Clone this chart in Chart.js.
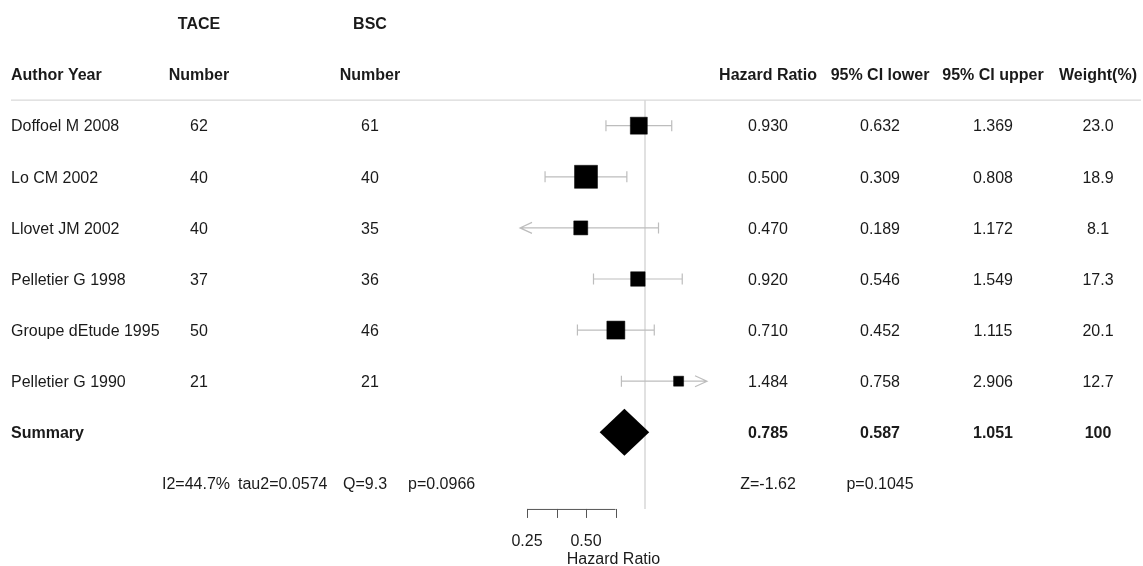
<!DOCTYPE html>
<html>
<head>
<meta charset="utf-8">
<script src="https://cdn.jsdelivr.net/npm/chart.js@4.4.1/dist/chart.umd.min.js"></script>
<style>
  html, body { margin: 0; padding: 0; background: #ffffff; }
  #wrap { position: relative; width: 1143px; height: 566px; }
</style>
</head>
<body>
<div id="wrap"><canvas id="c"></canvas></div>
<script>
// ---------------- DATA ----------------
const studies = ['Doffoel M 2008', 'Lo CM 2002', 'Llovet JM 2002', 'Pelletier G 1998', 'Groupe dEtude 1995', 'Pelletier G 1990'];
const taceN = [62, 40, 40, 37, 50, 21];
const bscN = [61, 40, 35, 36, 46, 21];
const hazardRatio = [0.930, 0.500, 0.470, 0.920, 0.710, 1.484];
const ciLower = [0.632, 0.309, 0.189, 0.546, 0.452, 0.758];
const ciUpper = [1.369, 0.808, 1.172, 1.549, 1.115, 2.906];
const weightPct = [23.0, 18.9, 8.1, 17.3, 20.1, 12.7];
const summaryLabel = 'Summary';
const summaryHR = 0.785;
const summaryLower = 0.587;
const summaryUpper = 1.051;
const summaryWeight = 100;
const groupHeaders = ['TACE', 'BSC'];
const columnHeaders = ['Author Year', 'Number', 'Number', 'Hazard Ratio', '95% CI lower', '95% CI upper', 'Weight(%)'];
const heterogeneityText = ['I2=44.7%', 'tau2=0.0574', 'Q=9.3', 'p=0.0966'];
const overallTestText = ['Z=-1.62', 'p=0.1045'];
const axisTicks = [0.25, 0.3536, 0.5, 0.7071];
const axisTickLabels = ['0.25', '', '0.50', ''];
const axisTitle = 'Hazard Ratio';
const referenceValue = 1;

// ---------------- STYLE / LAYOUT ----------------
const FONT = '"Liberation Sans", Arial, Helvetica, sans-serif';
const TEXT_COLOR = '#1a1a1a';
const boxSidePx = [17, 23, 14, 14.5, 18, 10];
const colX = { name: 11, tace: 199, bsc: 370, hr: 768, lo: 880, hi: 993, w: 1098 };
const heteroX = [162, 238, 343, 408];
const X_MIN = 0.2302, X_MAX = 2.072;

const fmt3 = v => v.toFixed(3);
const fmt1 = v => v.toFixed(1);

const boxPoints = hazardRatio.map((v, i) => ({ x: v, y: i + 2 }));

function drawText(ctx, txt, x, yCenter, align, bold) {
  ctx.font = (bold ? 'bold ' : '') + '16px ' + FONT;
  ctx.textAlign = align;
  ctx.textBaseline = 'alphabetic';
  ctx.fillStyle = TEXT_COLOR;
  ctx.fillText(txt, x, yCenter + 5.7);
}

const forestPlugin = {
  id: 'forest',
  beforeDatasetsDraw(chart) {
    const ctx = chart.ctx;
    const xs = chart.scales.x, ys = chart.scales.y;
    ctx.save();
    // header rule
    const yRule = ys.getPixelForValue(1.5);
    ctx.strokeStyle = '#d9d9d9';
    ctx.lineWidth = 1.2;
    ctx.beginPath();
    ctx.moveTo(11, yRule); ctx.lineTo(1141, yRule);
    ctx.stroke();
    // reference line
    const xRef = xs.getPixelForValue(referenceValue);
    ctx.strokeStyle = '#d4d4d4';
    ctx.lineWidth = 1.4;
    ctx.beginPath();
    ctx.moveTo(xRef, yRule); ctx.lineTo(xRef, ys.getPixelForValue(9.5));
    ctx.stroke();
    // confidence intervals
    ctx.strokeStyle = '#bdbdbd';
    ctx.lineWidth = 1.2;
    for (let i = 0; i < hazardRatio.length; i++) {
      const y = ys.getPixelForValue(i + 2);
      const clipL = ciLower[i] < X_MIN, clipR = ciUpper[i] > X_MAX;
      const xl = xs.getPixelForValue(clipL ? X_MIN : ciLower[i]);
      const xr = xs.getPixelForValue(clipR ? X_MAX : ciUpper[i]);
      ctx.beginPath();
      ctx.moveTo(xl, y); ctx.lineTo(xr, y);
      if (clipL) {
        ctx.moveTo(xl + 12, y - 5.5); ctx.lineTo(xl, y); ctx.lineTo(xl + 12, y + 5.5);
      } else {
        ctx.moveTo(xl, y - 5.5); ctx.lineTo(xl, y + 5.5);
      }
      if (clipR) {
        ctx.moveTo(xr - 12, y - 5.5); ctx.lineTo(xr, y); ctx.lineTo(xr - 12, y + 5.5);
      } else {
        ctx.moveTo(xr, y - 5.5); ctx.lineTo(xr, y + 5.5);
      }
      ctx.stroke();
    }
    ctx.restore();
  },
  afterDatasetsDraw(chart) {
    const ctx = chart.ctx;
    const xs = chart.scales.x, ys = chart.scales.y;
    ctx.save();
    // summary diamond
    const yS = ys.getPixelForValue(8);
    const half = 23.5;
    ctx.fillStyle = '#000000';
    ctx.beginPath();
    ctx.moveTo(xs.getPixelForValue(summaryLower), yS);
    ctx.lineTo(xs.getPixelForValue(summaryHR), yS - half);
    ctx.lineTo(xs.getPixelForValue(summaryUpper), yS);
    ctx.lineTo(xs.getPixelForValue(summaryHR), yS + half);
    ctx.closePath();
    ctx.fill();

    // group headers
    const y0 = ys.getPixelForValue(0);
    drawText(ctx, groupHeaders[0], colX.tace, y0, 'center', true);
    drawText(ctx, groupHeaders[1], colX.bsc, y0, 'center', true);
    // column headers
    const y1 = ys.getPixelForValue(1);
    drawText(ctx, columnHeaders[0], colX.name, y1, 'left', true);
    drawText(ctx, columnHeaders[1], colX.tace, y1, 'center', true);
    drawText(ctx, columnHeaders[2], colX.bsc, y1, 'center', true);
    drawText(ctx, columnHeaders[3], colX.hr, y1, 'center', true);
    drawText(ctx, columnHeaders[4], colX.lo, y1, 'center', true);
    drawText(ctx, columnHeaders[5], colX.hi, y1, 'center', true);
    drawText(ctx, columnHeaders[6], colX.w, y1, 'center', true);
    // study rows
    for (let i = 0; i < studies.length; i++) {
      const y = ys.getPixelForValue(i + 2);
      drawText(ctx, studies[i], colX.name, y, 'left', false);
      drawText(ctx, String(taceN[i]), colX.tace, y, 'center', false);
      drawText(ctx, String(bscN[i]), colX.bsc, y, 'center', false);
      drawText(ctx, fmt3(hazardRatio[i]), colX.hr, y, 'center', false);
      drawText(ctx, fmt3(ciLower[i]), colX.lo, y, 'center', false);
      drawText(ctx, fmt3(ciUpper[i]), colX.hi, y, 'center', false);
      drawText(ctx, fmt1(weightPct[i]), colX.w, y, 'center', false);
    }
    // summary row
    drawText(ctx, summaryLabel, colX.name, yS, 'left', true);
    drawText(ctx, fmt3(summaryHR), colX.hr, yS, 'center', true);
    drawText(ctx, fmt3(summaryLower), colX.lo, yS, 'center', true);
    drawText(ctx, fmt3(summaryUpper), colX.hi, yS, 'center', true);
    drawText(ctx, String(summaryWeight), colX.w, yS, 'center', true);
    // stats row
    const y9 = ys.getPixelForValue(9);
    heterogeneityText.forEach((t, k) => drawText(ctx, t, heteroX[k], y9, 'left', false));
    drawText(ctx, overallTestText[0], colX.hr, y9, 'center', false);
    drawText(ctx, overallTestText[1], colX.lo, y9, 'center', false);

    // x axis
    const yAx = ys.getPixelForValue(9.5);
    ctx.strokeStyle = '#555555';
    ctx.lineWidth = 1;
    ctx.beginPath();
    const xa0 = xs.getPixelForValue(axisTicks[0]);
    const xa1 = xs.getPixelForValue(axisTicks[axisTicks.length - 1]);
    ctx.moveTo(xa0, yAx + 0.5); ctx.lineTo(xa1, yAx + 0.5);
    axisTicks.forEach(t => {
      const px = Math.round(xs.getPixelForValue(t)) + 0.5;
      ctx.moveTo(px, yAx); ctx.lineTo(px, yAx + 9);
    });
    ctx.stroke();
    axisTicks.forEach((t, k) => {
      if (axisTickLabels[k]) drawText(ctx, axisTickLabels[k], xs.getPixelForValue(t), yAx + 31, 'center', false);
    });
    const ca = chart.chartArea;
    drawText(ctx, axisTitle, (ca.left + ca.right) / 2, yAx + 49, 'center', false);
    ctx.restore();
  }
};

new Chart(document.getElementById('c'), {
  type: 'scatter',
  data: {
    datasets: [{
      label: 'Hazard Ratio',
      data: boxPoints,
      pointStyle: 'rect',
      pointRadius: boxSidePx.map(s => s / Math.SQRT2),
      pointHoverRadius: boxSidePx.map(s => s / Math.SQRT2),
      backgroundColor: '#000000',
      borderColor: '#000000',
      borderWidth: 0.5,
      clip: false
    }]
  },
  options: {
    responsive: true,
    maintainAspectRatio: false,
    animation: false,
    events: [],
    layout: { padding: { left: 520, right: 436, top: 23.5, bottom: 82.6 } },
    plugins: { legend: { display: false }, tooltip: { enabled: false } },
    scales: {
      x: { type: 'logarithmic', min: X_MIN, max: X_MAX, display: false },
      y: { type: 'linear', min: 0, max: 9, reverse: true, display: false }
    }
  },
  plugins: [forestPlugin]
});
</script>
</body>
</html>
